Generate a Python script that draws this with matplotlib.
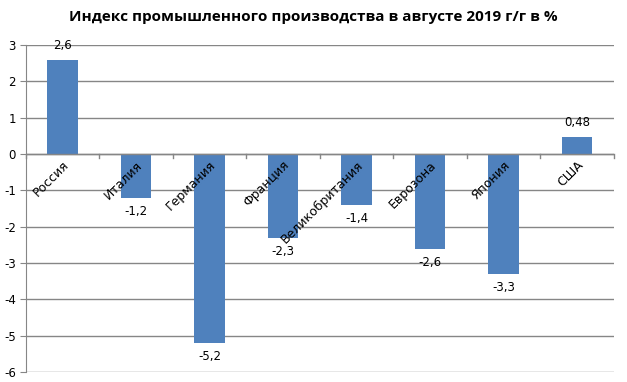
import numpy as np
import matplotlib
matplotlib.use("Agg")
import matplotlib.pyplot as plt

countries = ["Россия", "Италия", "Германия", "Франция", "Великобритания",
             "Еврозона", "Япония", "США"]
values = [2.6, -1.2, -5.2, -2.3, -1.4, -2.6, -3.3, 0.48]
value_labels = ["2,6", "-1,2", "-5,2", "-2,3", "-1,4", "-2,6", "-3,3", "0,48"]
yticks = [-6, -5, -4, -3, -2, -1, 0, 1, 2, 3]

plt.rcParams['font.family'] = ['DejaVu Sans']

fig = plt.figure(figsize=(6.27, 3.82), dpi=100)
ax = fig.add_axes([0.041, 0.026, 0.938, 0.856])

x = np.arange(len(countries))
bars = ax.bar(x, values, width=0.41, color="#4F81BD", zorder=3)

ax.set_xlim(-0.5, len(countries) - 0.5)
ax.set_ylim(-6, 3)
ax.set_yticks(yticks)
ax.set_yticklabels([str(t) for t in yticks], fontsize=8.5)
ax.yaxis.grid(True, color="#868686", linewidth=1, zorder=0)
ax.tick_params(axis="y", length=4, color="#868686", pad=3)
ax.set_xticks([])

for s in ["top", "right", "bottom"]:
    ax.spines[s].set_visible(False)
ax.spines["left"].set_color("#868686")

# category axis at zero with boundary ticks
ax.axhline(0, color="#868686", linewidth=1, zorder=4)
for b in np.arange(len(countries) + 1) - 0.5:
    ax.plot([b, b], [0, -0.1], color="#868686", linewidth=1, zorder=4,
            clip_on=False)

for xi, name in zip(x, countries):
    ax.text(xi + 0.0, -0.12, name, rotation=45, rotation_mode="anchor",
            ha="right", va="top", fontsize=9, zorder=5)

for xi, v, lab in zip(x, values, value_labels):
    off = 10 if v > 0 else -10
    ax.annotate(lab, (xi, v), xytext=(0, off), textcoords="offset points",
                ha="center", va="center", fontsize=8.5, zorder=5)

fig.suptitle("Индекс промышленного производства в августе 2019 г/г в %",
             x=0.5, y=0.975, fontsize=11, fontweight="bold",
             family=["Open Sans", "DejaVu Sans"])

fig.savefig("out.png", dpi=100)
